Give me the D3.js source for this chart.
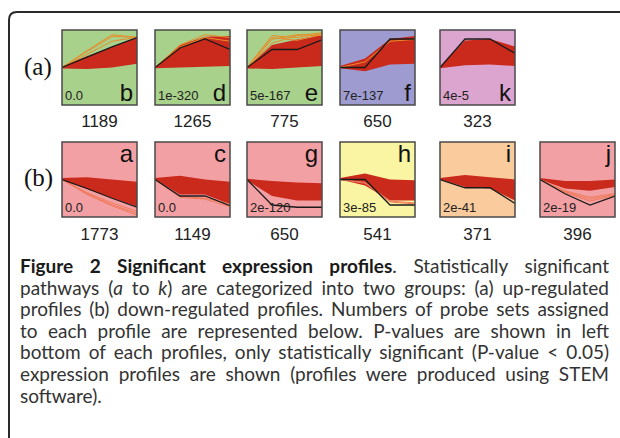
<!DOCTYPE html>
<meta charset="utf-8">
<style>
  body { margin: 0; background: #fff; }
  .count { font-family: "Liberation Sans", Arial, sans-serif; font-size: 17px; fill: #222; text-anchor: middle; }
  .pval { font-family: "Liberation Sans", Arial, sans-serif; font-size: 13px; fill: #222; }
  .letter { font-family: "Liberation Sans", Arial, sans-serif; font-size: 24px; fill: #111; text-anchor: end; }
  .group { font-family: "Liberation Serif", "Times New Roman", serif; font-size: 25px; fill: #111; }
  .caption { font-family: Lato, "Open Sans", sans-serif; font-size: 19px; fill: #333; }
</style>
<script src="https://cdnjs.cloudflare.com/ajax/libs/d3/7.8.5/d3.min.js"></script>
<body>
<script>

  // profiles, in order: row (a) then row (b)
  var letters = ["b", "d", "e", "f", "k", "a", "c", "g", "h", "i", "j"];
  var groups  = ["a", "a", "a", "a", "a", "b", "b", "b", "b", "b", "b"];
  var pValues = ["0.0", "1e-320", "5e-167", "7e-137", "4e-5", "0.0", "0.0", "2e-120", "3e-85", "2e-41", "2e-19"];
  var counts  = [1189, 1265, 775, 650, 323, 1773, 1149, 650, 541, 371, 396];

  // model profile (black line), 4 time points
  var modelProfiles = [
    [0, 0.55, 1.1, 1.6],
    [0, 1.04, 1.52, 0.96],
    [0, 0.96, 0.96, 1.48],
    [0, 0, 1.52, 1.52],
    [0, 1.52, 1.52, 0.76],
    [0, -0.48, -1, -1.48],
    [0, -0.88, -0.88, -1.4],
    [0, -1.36, -1.48, -1.48],
    [0, 0, -1.36, -1.36],
    [0, -0.44, -0.44, -1.28],
    [0, -0.76, -1.36, -0.88]
  ];

  // upper and lower edge of the bundle of assigned genes
  var bundleTop = [
    [0.05, 0.6, 1.1, 1.6],
    [0, 1.2, 1.64, 1.68],
    [0, 1.2, 1.5, 1.75],
    [0.08, 0.48, 1.52, 1.68],
    [0.04, 1.44, 1.52, 1.12],
    [0.08, 0.12, 0, -0.12],
    [0.08, 0.2, 0, -0.12],
    [0.04, -0.08, -0.16, -0.2],
    [0.08, 0.32, 0, -0.04],
    [0.08, 0.24, 0.12, 0],
    [0.08, -0.08, -0.08, 0]
  ];
  var bundleBottom = [
    [-0.05, -0.08, 0, 0.2],
    [-0.04, 0, 0.04, 0.08],
    [-0.05, -0.08, 0, 0.08],
    [-0.04, -0.2, 0.16, 0.2],
    [-0.04, 0.12, 0.16, 0.08],
    [-0.04, -0.5, -0.98, -1.44],
    [0, -0.8, -0.8, -1.32],
    [-0.04, -0.88, -1.12, -1.12],
    [0, -0.32, -1.12, -1.12],
    [0, -0.4, -0.48, -1.12],
    [0, -0.48, -0.6, -0.4]
  ];

  // outlying gene profiles drawn in a lighter colour
  var outliers = [
    [[0, 0.9, 1.75, 1.6], [0, 0.85, 1.65, 1.62], [0, 0.7, 1.4, 1.62]],
    [[0, 1.2, 1.75, 1.6], [0, 1.1, 1.6, 1.4]],
    [[0, 1.7, 1.6, 1.8], [0, 1.5, 1.75, 1.7], [0, 1.3, 1.7, 1.85], [0, 1.6, 1.45, 1.75]],
    [[0, 0.3, 1.4, 1.5]],
    [],
    [[0, -0.8, -1.4, -1.9], [0, -0.7, -1.25, -1.7], [0, -0.75, -1.35, -1.8]],
    [[0, -0.95, -1.05, -1.45], [0, -0.9, -1.0, -1.3]],
    [],
    [[0, -0.2, -1.2, -1.3], [0, -0.15, -1.15, -1.25]],
    [],
    [[0, -0.65, -1.05, -0.8], [0, -0.6, -0.95, -0.75], [0, -0.7, -1.15, -0.85]]
  ];

  var captionLines = [
    "pathways (<a> to <k>) are categorized into two groups: (a) up-regulated",
    "profiles (b) down-regulated profiles. Numbers of probe sets assigned",
    "to each profile are represented below. P-values are shown in left",
    "bottom of each profiles, only statistically significant (P-value < 0.05)",
    "expression profiles are shown (profiles were produced using STEM",
    "software)."
  ];

  var bgColor = { b: "#a8d18c", d: "#a8d18c", e: "#a8d18c", f: "#9d9bd0", k: "#dba5cf",
                  a: "#f3a0a4", c: "#f3a0a4", g: "#f3a0a4", j: "#f3a0a4", h: "#faf5a3", i: "#f9cb9d" };

  var w = 620, h = 438;
  var size = 75;
  var colX = [62, 155, 247, 340, 440, 540];
  var rowY = { a: 30, b: 142 };

  var svg = d3.select("body").append("svg")
              .attr("width", w)
              .attr("height", h);

  // frame round the figure
  svg.append("path")
     .attr("d", "M9,438 L9,20 Q9,12 17,12 L620,12")
     .attr("fill", "none")
     .attr("stroke", "#2a2a2a")
     .attr("stroke-width", 2);

  svg.append("text").attr("class", "group").attr("x", 24).attr("y", 75).text("(a)");
  svg.append("text").attr("class", "group").attr("x", 24).attr("y", 186).text("(b)");

  var x = d3.scaleLinear().domain([0, 3]).range([0, size]);
  var y = d3.scaleLinear().domain([-2, 2]).range([size, 0]);

  var line = d3.line().x(function (d, i) { return x(i); }).y(function (d) { return y(d); });
  var area = d3.area()
               .x(function (d, i) { return x(i); })
               .y0(function (d) { return y(d[1]); })
               .y1(function (d) { return y(d[0]); });

  var svgDefs = svg.append("defs");
  svgDefs.append("clipPath").attr("id", "clip")
         .append("rect").attr("width", size).attr("height", size);

  var colCount = { a: 0, b: 0 };
  letters.forEach(function (letter, k) {
    var g = groups[k];
    var px = colX[colCount[g]++];
    var py = rowY[g];
    var panel = svg.append("g").attr("transform", "translate(" + px + "," + py + ")");

    panel.append("rect")
         .attr("width", size).attr("height", size)
         .attr("fill", bgColor[letter]);

    var inner = panel.append("g").attr("clip-path", "url(#clip)");

    inner.append("path")
         .datum(d3.zip(bundleTop[k], bundleBottom[k]))
         .attr("d", area)
         .attr("fill", "#c92a1c");

    inner.selectAll(".outlier")
         .data(outliers[k])
         .enter()
         .append("path")
         .attr("class", "outlier")
         .attr("d", line)
         .attr("fill", "none")
         .attr("stroke", g == "a" ? "#e98d2a" : "#f07a5a")
         .attr("stroke-width", 1);

    inner.append("path")
         .datum(modelProfiles[k])
         .attr("d", line)
         .attr("fill", "none")
         .attr("stroke", "#1a1a1a")
         .attr("stroke-width", 1.3);

    panel.append("rect")
         .attr("width", size).attr("height", size)
         .attr("fill", "none")
         .attr("stroke", "#4a4a4a")
         .attr("stroke-width", 1.5);

    panel.append("text")
         .attr("class", "pval")
         .attr("x", 3)
         .attr("y", size - 5)
         .text(pValues[k]);

    panel.append("text")
         .attr("class", "letter")
         .attr("x", size - 4)
         .attr("y", g == "a" ? size - 4 : 20)
         .text(letter);

    panel.append("text")
         .attr("class", "count")
         .attr("x", size / 2)
         .attr("y", g == "a" ? 97 : 98)
         .text(counts[k]);
  });

  // caption, justified between left and right margins by widening the spaces
  var capLeft = 20, capRight = 609, capTop = 273, capStep = 21.6;

  function justify(t, str) {
    var natural = t.node().getComputedTextLength();
    var spaces = str.split(" ").length - 1;
    t.attr("word-spacing", ((capRight - capLeft) - natural) / spaces);
  }

  var first = svg.append("text")
                 .attr("class", "caption")
                 .attr("x", capLeft)
                 .attr("y", capTop);
  first.append("tspan").attr("font-weight", "bold").attr("fill", "#1a1a1a")
       .text("Figure 2 Significant expression profiles");
  first.append("tspan").text(". Statistically significant");
  justify(first, "Figure 2 Significant expression profiles. Statistically significant");

  captionLines.forEach(function (str, i) {
    var t = svg.append("text")
               .attr("class", "caption")
               .attr("x", capLeft)
               .attr("y", capTop + capStep * (i + 1));
    // <x> marks italic words
    str.split(/(<[^>]+>)/).forEach(function (part) {
      if (!part) return;
      if (part[0] == "<") {
        t.append("tspan").attr("font-style", "italic").text(part.slice(1, -1));
      } else {
        t.append("tspan").text(part);
      }
    });
    if (i < captionLines.length - 1) justify(t, str);
  });

</script>
</body>
